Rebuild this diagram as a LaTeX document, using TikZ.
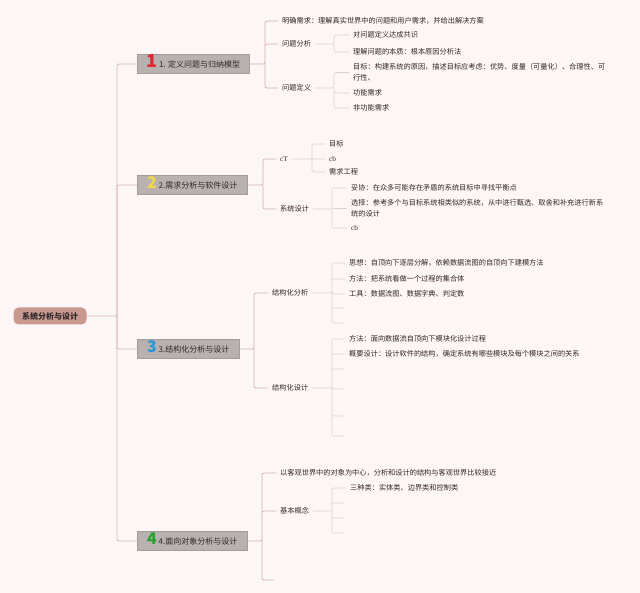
\documentclass[tikz,border=0pt]{standalone}
\usepackage{fontspec}
\setmainfont{Noto Sans CJK SC}
\newfontfamily\latinserif{Liberation Serif}
\usepackage{tikz}
\usetikzlibrary{positioning, calc}

\definecolor{paper}{RGB}{253,246,246}
\definecolor{ink}{RGB}{45,40,40}
\definecolor{rootfill}{RGB}{201,152,143}
\definecolor{topicfill}{RGB}{184,177,175}
\definecolor{topicedge}{RGB}{165,155,153}
\definecolor{trunkline}{RGB}{214,184,180}
\definecolor{boughline}{RGB}{208,176,172}
\definecolor{twigline}{RGB}{224,208,205}
\definecolor{numred}{RGB}{220,40,50}
\definecolor{numyellow}{RGB}{240,215,70}
\definecolor{numblue}{RGB}{40,150,215}
\definecolor{numgreen}{RGB}{40,160,50}

\begin{document}
\begin{tikzpicture}[x=1pt, y=-1pt, font=\fontsize{7.2}{11}\selectfont]
%
% Skiss:
% 系统分析与设计 --+-- 1 定义问题 -- needs / analyse / define
%                  +-- 2 需求分析 -- cT / 系统设计
%                  +-- 3 结构化   -- 分析 / 设计
%                  +-- 4 面向对象 -- 中心 / 基本概念
%
\tikzstyle{root} = [rectangle, rounded corners=5pt, fill=rootfill, text=ink, minimum width=73pt, minimum height=17pt, inner sep=0pt, font=\fontsize{8}{10}\selectfont\bfseries]
\tikzstyle{topic} = [rectangle, fill=topicfill, draw=topicedge, minimum height=19pt, inner sep=0pt, anchor=west, text=ink, font=\fontsize{8}{10}\selectfont]
\tikzstyle{leaf} = [anchor=west, inner xsep=4pt, inner ysep=1pt, align=left, text=ink]
\tikzstyle{blank} = [anchor=west, inner sep=0pt, minimum size=0pt]
\tikzstyle{trunk} = [line width=0.8pt, draw=trunkline, rounded corners=2pt]
\tikzstyle{bough} = [line width=0.7pt, draw=boughline, rounded corners=2pt]
\tikzstyle{twig} = [line width=0.6pt, draw=twigline, rounded corners=2pt]
% Paper
\fill [paper] (0,0) rectangle (640,593);
\useasboundingbox (0,0) rectangle (640,593);
% Spines
\coordinate (trunk) at (117,0);
\coordinate (sp_define) at (265,0);
\coordinate (sp_ana) at (334,0);
\coordinate (sp_def) at (334,0);
\coordinate (sp_reqs) at (263,0);
\coordinate (sp_ct) at (312,0);
\coordinate (sp_sys) at (332,0);
\coordinate (sp_struct) at (254,0);
\coordinate (sp_sa) at (332,0);
\coordinate (sp_sd) at (332,0);
\coordinate (sp_oo) at (262,0);
\coordinate (sp_basic) at (332,0);
% Nodes
\node (root) [root] at (50,316) {系统分析与设计};
\node (define) [topic, minimum width=112pt] at (137,64) {\smash{\textcolor{numred}{\fontsize{18}{18}\selectfont\bfseries 1}}\ 1. 定义问题与归纳模型};
\node (reqs) [topic, minimum width=110pt] at (137,185) {\smash{\textcolor{numyellow}{\fontsize{16}{16}\selectfont\bfseries 2}}\ 2.需求分析与软件设计};
\node (struct) [topic, minimum width=102pt] at (137,349) {\smash{\textcolor{numblue}{\fontsize{16}{16}\selectfont\bfseries 3}}\ 3.结构化分析与设计};
\node (oo) [topic, minimum width=110pt] at (137,541) {\smash{\textcolor{numgreen}{\fontsize{16}{16}\selectfont\bfseries 4}}\ 4.面向对象分析与设计};

\node (define_need) [leaf] at (278,21) {明确需求：理解真实世界中的问题和用户需求，并给出解决方案};
\node (define_ana) [leaf] at (278,44) {问题分析};
\node (define_def) [leaf] at (278,88) {问题定义};
\node (ana_a) [leaf] at (349,35) {对问题定义达成共识};
\node (ana_b) [leaf] at (349,52) {理解问题的本质：根本原因分析法};
\node (def_goal) [leaf] at (349,72.5) {目标：构建系统的原因，描述目标应考虑：优势、度量（可量化）、合理性、可\\行性、};
\node (def_func) [leaf] at (349,93) {功能需求};
\node (def_nonf) [leaf] at (349,108) {非功能需求};

\node (reqs_ct) [leaf] at (276,159) {\latinserif cT};
\node (reqs_sys) [leaf] at (276,209) {系统设计};
\node (ct_goal) [leaf] at (325,144) {目标};
\node (ct_cb) [leaf] at (325,159) {\latinserif cb};
\node (ct_eng) [leaf] at (325,172) {需求工程};
\node (sys_comp) [leaf] at (347,188) {妥协：在众多可能存在矛盾的系统目标中寻找平衡点};
\node (sys_sel) [leaf] at (347,208.5) {选择：参考多个与目标系统相类似的系统，从中进行甄选、取舍和补充进行新系\\统的设计};
\node (sys_cb) [leaf] at (347,228) {\latinserif cb};

\node (struct_ana) [leaf] at (268,293) {结构化分析};
\node (struct_des) [leaf] at (268,388) {结构化设计};
\node (sa_idea) [leaf] at (345,263) {思想：自顶向下逐层分解，依赖数据流图的自顶向下建模方法};
\node (sa_meth) [leaf] at (345,279) {方法：把系统看做一个过程的集合体};
\node (sa_tool) [leaf] at (345,294) {工具：数据流图、数据字典、判定数};
\node (sa_e1) [blank] at (344,308) {};
\node (sa_e2) [blank] at (344,323) {};
\node (sd_meth) [leaf] at (345,339) {方法：面向数据流自顶向下模块化设计过程};
\node (sd_arch) [leaf] at (345,354) {概要设计：设计软件的结构，确定系统有哪些模块及每个模块之间的关系};
\node (sd_e1) [blank] at (344,369) {};
\node (sd_e2) [blank] at (344,389) {};
\node (sd_e3) [blank] at (344,416) {};
\node (sd_e4) [blank] at (344,436) {};

\node (oo_centre) [leaf] at (276,473) {以客观世界中的对象为中心，分析和设计的结构与客观世界比较接近};
\node (oo_basic) [leaf] at (276,511) {基本概念};
\node (oo_e1) [blank] at (274,580) {};
\node (bc_three) [leaf] at (346,488) {三种类：实体类、边界类和控制类};
\node (bc_e1) [blank] at (344,503) {};
\node (bc_e2) [blank] at (344,518) {};
\node (bc_e3) [blank] at (344,533) {};
% Trunk
\draw [trunk] (root.east) -- (root.east -| trunk) |- (define.west);
\draw [trunk] (root.east -| trunk) |- (reqs.west);
\draw [trunk] (root.east -| trunk) |- (struct.west);
\draw [trunk] (root.east -| trunk) |- (oo.west);
% Topic 1
\draw [bough] (define.east) -- (define.east -| sp_define) |- (define_need.west) (define.east -| sp_define) |- (define_ana.west) (define.east -| sp_define) |- (define_def.west);
\draw [twig] (define_ana.east) -- (define_ana.east -| sp_ana) |- (ana_a.west) (define_ana.east -| sp_ana) |- (ana_b.west);
\draw [twig] (define_def.east) -- (define_def.east -| sp_def) |- (def_goal.west) (define_def.east -| sp_def) |- (def_func.west) (define_def.east -| sp_def) |- (def_nonf.west);
% Topic 2
\draw [bough] (reqs.east) -- (reqs.east -| sp_reqs) |- (reqs_ct.west) (reqs.east -| sp_reqs) |- (reqs_sys.west);
\draw [twig] (reqs_ct.east) -- (reqs_ct.east -| sp_ct) |- (ct_goal.west) (reqs_ct.east -| sp_ct) |- (ct_cb.west) (reqs_ct.east -| sp_ct) |- (ct_eng.west);
\draw [twig] (reqs_sys.east) -- (reqs_sys.east -| sp_sys) |- (sys_comp.west) (reqs_sys.east -| sp_sys) |- (sys_sel.west) (reqs_sys.east -| sp_sys) |- (sys_cb.west);
% Topic 3
\draw [bough] (struct.east) -- (struct.east -| sp_struct) |- (struct_ana.west) (struct.east -| sp_struct) |- (struct_des.west);
\draw [twig] (struct_ana.east) -- (struct_ana.east -| sp_sa) |- (sa_idea.west) (struct_ana.east -| sp_sa) |- (sa_meth.west) (struct_ana.east -| sp_sa) |- (sa_tool.west) (struct_ana.east -| sp_sa) |- (sa_e1.west) (struct_ana.east -| sp_sa) |- (sa_e2.west);
\draw [twig] (struct_des.east) -- (struct_des.east -| sp_sd) |- (sd_meth.west) (struct_des.east -| sp_sd) |- (sd_arch.west) (struct_des.east -| sp_sd) |- (sd_e1.west) (struct_des.east -| sp_sd) |- (sd_e2.west) (struct_des.east -| sp_sd) |- (sd_e3.west) (struct_des.east -| sp_sd) |- (sd_e4.west);
% Topic 4
\draw [bough] (oo.east) -- (oo.east -| sp_oo) |- (oo_centre.west) (oo.east -| sp_oo) |- (oo_basic.west) (oo.east -| sp_oo) |- (oo_e1.west);
\draw [twig] (oo_basic.east) -- (oo_basic.east -| sp_basic) |- (bc_three.west) (oo_basic.east -| sp_basic) |- (bc_e1.west) (oo_basic.east -| sp_basic) |- (bc_e2.west) (oo_basic.east -| sp_basic) |- (bc_e3.west);
\end{tikzpicture}
\end{document}
